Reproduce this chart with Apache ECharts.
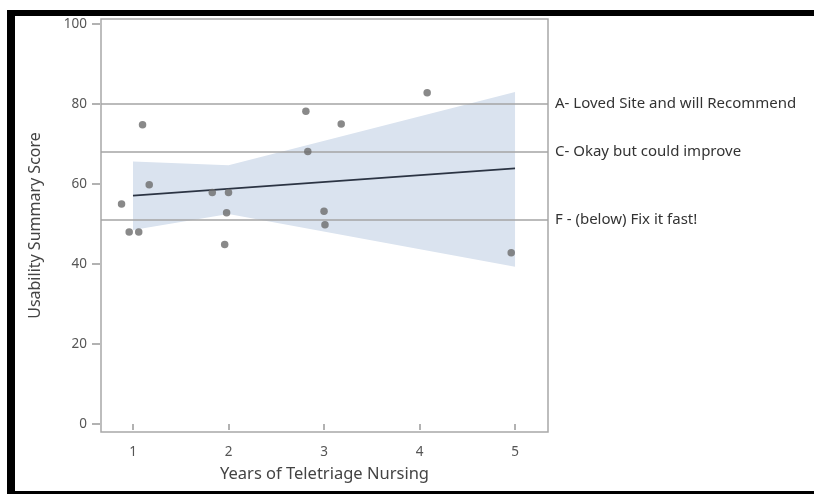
<!DOCTYPE html>
<html>
<head>
<meta charset="utf-8">
<script src="https://cdn.jsdelivr.net/npm/echarts@6/dist/echarts.min.js"></script>
<style>html,body{margin:0;padding:0;background:#fff}#c{width:814px;height:494px}</style>
</head>
<body>
<div id="c"></div>
<script>
// Scatter points: years of teletriage nursing vs usability summary score
var pointX = [0.88, 0.96, 1.06, 1.10, 1.17, 1.83, 2.00, 1.98, 1.96, 2.81, 2.83, 3.00, 3.01, 3.18, 4.08, 4.96];
var pointY = [55, 48, 48, 74.8, 59.8, 57.9, 57.9, 52.8, 44.9, 78.2, 68.1, 53.2, 49.8, 75, 82.8, 42.8];
// Regression fit line
var fitX = [1, 5];
var fitY = [57.1, 63.9];
// Confidence band
var bandX = [1, 2, 5];
var bandUpper = [65.6, 64.7, 83.0];
var bandLower = [48.5, 52.5, 39.3];
// Reference lines
var refValues = [80, 68, 51];
var refLabels = ['A- Loved Site and will Recommend', 'C- Okay but could improve', 'F - (below) Fix it fast!'];
// Ticks
var xTicks = [1, 2, 3, 4, 5];
var yTicks = [0, 20, 40, 60, 80, 100];

var FONT = '"Noto Sans", "Open Sans", sans-serif';
var chart = echarts.init(document.getElementById('c'), null, {renderer: 'canvas'});

var points = pointX.map(function (x, i) { return [x, pointY[i]]; });
var fit = fitX.map(function (x, i) { return [x, fitY[i]]; });
var band = bandX.map(function (x, i) { return [x, bandLower[i], bandUpper[i]]; });

chart.setOption({
  animation: false,
  backgroundColor: '#fff',
  grid: {left: 101, top: 19, right: 266, bottom: 62, show: true, borderColor: '#a8a8a8', borderWidth: 1.5, backgroundColor: 'transparent'},
  xAxis: {
    type: 'value', min: 0.665, max: 5.345, offset: 2,
    name: 'Years of Teletriage Nursing', nameLocation: 'middle', nameGap: 32,
    nameTextStyle: {fontFamily: FONT, fontSize: 16.5, color: '#444'},
    axisLine: {show: false},
    splitLine: {show: false},
    axisTick: {show: true, inside: false, length: 6, customValues: xTicks, lineStyle: {color: '#999', width: 1.5}},
    axisLabel: {customValues: xTicks, margin: 11, fontFamily: FONT, fontSize: 13.5, color: '#555'}
  },
  yAxis: {
    type: 'value', min: -2, max: 101.25, offset: 1,
    name: 'Usability Summary Score', nameLocation: 'middle', nameGap: 57,
    nameTextStyle: {fontFamily: FONT, fontSize: 16, color: '#444'},
    axisLine: {show: false},
    splitLine: {show: false},
    axisTick: {show: true, inside: false, length: 8, customValues: yTicks, lineStyle: {color: '#999', width: 1.5}},
    axisLabel: {customValues: yTicks, margin: 13, fontFamily: FONT, fontSize: 13.5, color: '#555'}
  },
  series: [
    {
      type: 'custom',
      z: 1,
      data: band,
      renderItem: function (params, api) {
        if (params.dataIndex !== 0) return null;
        var pts = [];
        for (var i = 0; i < band.length; i++) pts.push(api.coord([band[i][0], band[i][2]]));
        for (var j = band.length - 1; j >= 0; j--) pts.push(api.coord([band[j][0], band[j][1]]));
        return {type: 'polygon', shape: {points: pts}, style: {fill: '#dae3ef', stroke: null}};
      },
      encode: {x: 0, y: 1},
      silent: true
    },
    {
      type: 'line',
      z: 3,
      data: [],
      silent: true,
      markLine: {
        silent: true,
        symbol: ['none', 'none'],
        lineStyle: {color: '#a5a5a5', width: 1.5, type: 'solid'},
        label: {
          show: true, position: 'end', distance: 7,
          fontFamily: FONT, fontSize: 15, color: '#333',
          formatter: function (p) { return refLabels[refValues.indexOf(p.value)]; }
        },
        data: refValues.map(function (v) { return {yAxis: v}; })
      }
    },
    {
      type: 'line',
      z: 4,
      data: fit,
      symbol: 'none',
      lineStyle: {color: '#2b3443', width: 1.8},
      silent: true
    },
    {
      type: 'scatter',
      z: 5,
      data: points,
      symbolSize: 7.5,
      itemStyle: {color: '#6b6b6b'},
      silent: true
    }
  ],
  graphic: [
    {type: 'rect', shape: {x: 7, y: 10, width: 807, height: 6}, style: {fill: '#000'}, z: 100},
    {type: 'rect', shape: {x: 7, y: 10, width: 8, height: 484}, style: {fill: '#000'}, z: 100},
    {type: 'rect', shape: {x: 7, y: 491, width: 807, height: 3}, style: {fill: '#000'}, z: 100}
  ]
});
</script>
</body>
</html>
